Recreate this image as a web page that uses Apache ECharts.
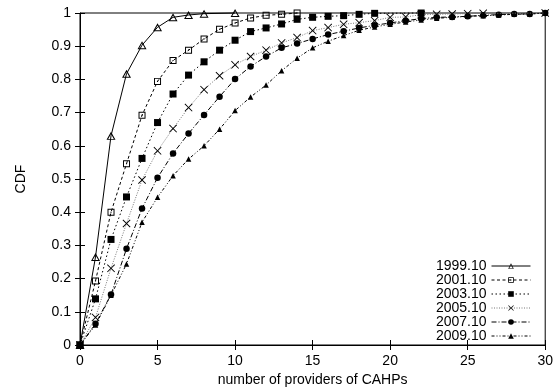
<!DOCTYPE html>
<html>
<head>
<meta charset="utf-8">
<script src="https://cdn.jsdelivr.net/npm/echarts@6/dist/echarts.min.js"></script>
<style>
  html, body { margin: 0; padding: 0; background: #fff; }
  #chart { width: 556px; height: 392px; }
</style>
</head>
<body>
<div id="chart"></div>
<script>
// Number of providers (x) and the CDF of each snapshot; null = no point at that x
const providers = [0,1,2,3,4,5,6,7,8,9,10,11,12,13,14,15,16,17,18,19,20,21,22,23,24,25,26,27,28,29,30];
const seriesNames = ['1999.10', '2001.10', '2003.10', '2005.10', '2007.10', '2009.10'];

const cdf1999 = [0, 0.265, 0.630, 0.817, 0.903, 0.957, 0.987, 0.994, 0.998, null, 1.0];
const cdf2001 = [0, 0.193, 0.400, 0.546, 0.692, 0.794, 0.857, 0.888, 0.922, 0.951, 0.970, 0.985, 0.993, 0.996, 1.0];
const cdf2003 = [0, 0.139, 0.318, 0.446, 0.562, 0.670, 0.756, 0.813, 0.853, 0.888, 0.918, 0.944, 0.955, 0.967, 0.981, 0.987, 0.990, 0.992, 0.996, 0.999, null, null, 1.0];
const cdf2005 = [0, 0.083, 0.231, 0.366, 0.497, 0.585, 0.652, 0.715, 0.769, 0.811, 0.844, 0.869, 0.888, 0.910, 0.926, 0.947, 0.956, 0.966, 0.971, 0.977, 0.987, 0.988, 0.995, 0.996, 0.997, 0.998, 0.999, null, null, null, 1.0];
const cdf2007 = [0, 0.064, 0.152, 0.290, 0.411, 0.504, 0.577, 0.637, 0.693, 0.748, 0.801, 0.839, 0.869, 0.895, 0.908, 0.922, 0.935, 0.945, 0.955, 0.963, 0.970, 0.977, 0.983, 0.987, 0.988, 0.990, 0.993, 0.995, 0.997, 0.997, 1.0];
const cdf2009 = [0, 0.060, 0.150, 0.244, 0.370, 0.445, 0.510, 0.560, 0.600, 0.650, 0.706, 0.747, 0.783, 0.826, 0.864, 0.895, 0.915, 0.932, 0.948, 0.958, 0.966, 0.973, 0.979, 0.984, 0.987, 0.990, 0.992, 0.994, 0.996, 0.997, 1.0];

const xTicks = [0, 5, 10, 15, 20, 25, 30];
const yTicks = [0, 0.1, 0.2, 0.3, 0.4, 0.5, 0.6, 0.7, 0.8, 0.9, 1];

const FONT = '"Liberation Sans", Arial, sans-serif';

// Outline-only marker shapes (outer ring clockwise, inner ring counter-clockwise)
const openTriangle = 'path://M5,0L10,10L0,10Z M5,2.7L1.9,8.8L8.1,8.8Z';
const openSquareDot = 'path://M0,0L10,0L10,10L0,10Z M1.4,1.4L1.4,8.6L8.6,8.6L8.6,1.4Z M4.2,4.2L5.8,4.2L5.8,5.8L4.2,5.8Z';
const thinCross = 'path://M0,0.8L0.8,0L5,4.2L9.2,0L10,0.8L5.8,5L10,9.2L9.2,10L5,5.8L0.8,10L0,9.2L4.2,5Z';

const styles = [
  { symbol: openTriangle, size: [9, 8], dash: 'solid', color: '#000' },
  { symbol: openSquareDot, size: 7, dash: [3, 2.5], color: '#000' },
  { symbol: 'rect', size: 7, dash: [1.5, 2.5], color: '#000' },
  { symbol: thinCross, size: 8, dash: [1, 1.5], color: '#777' },
  { symbol: 'circle', size: 6.5, dash: [5, 2, 1, 2], color: '#000' },
  { symbol: 'triangle', size: 5.5, dash: [3, 2, 1, 2, 1, 2], color: '#000' }
];

const values = [cdf1999, cdf2001, cdf2003, cdf2005, cdf2007, cdf2009];

function pairs(ys) {
  const out = [];
  ys.forEach((y, i) => { if (y !== null) out.push([providers[i], y]); });
  return out;
}

const series = seriesNames.map((name, k) => ({
  name: name,
  type: 'line',
  data: pairs(values[k]),
  symbol: styles[k].symbol,
  symbolSize: styles[k].size,
  showAllSymbol: true,
  clip: false,
  lineStyle: { color: styles[k].color, width: 1, type: styles[k].dash },
  itemStyle: { color: '#000', borderWidth: 0 },
  z: 10 - k
}));

const axisText = { color: '#000', fontFamily: FONT, fontSize: 14 };
const tickStyle = { show: true, inside: true, length: 5, lineStyle: { color: '#000', width: 1 } };

const chart = echarts.init(document.getElementById('chart'), null, { renderer: 'canvas' });
chart.setOption({
  animation: false,
  backgroundColor: '#fff',
  grid: { left: 80, right: 9, top: 13, bottom: 44, show: true, borderColor: '#000', borderWidth: 1, backgroundColor: 'transparent' },
  xAxis: [
    {
      type: 'value', min: xTicks[0], max: xTicks[xTicks.length - 1], interval: xTicks[1] - xTicks[0],
      name: 'number of providers of CAHPs', nameLocation: 'middle', nameGap: 28,
      nameTextStyle: axisText,
      axisLine: { show: true, lineStyle: { color: '#000', width: 1 } },
      axisTick: tickStyle,
      axisLabel: Object.assign({ margin: 9 }, axisText),
      splitLine: { show: false }
    },
    {
      type: 'value', position: 'top', min: xTicks[0], max: xTicks[xTicks.length - 1], interval: xTicks[1] - xTicks[0],
      axisLine: { show: false }, axisTick: tickStyle, axisLabel: { show: false }, splitLine: { show: false }
    }
  ],
  yAxis: [
    {
      type: 'value', min: yTicks[0], max: yTicks[yTicks.length - 1], interval: 0.1,
      name: 'CDF', nameLocation: 'middle', nameGap: 52, nameRotate: 90,
      nameTextStyle: axisText,
      axisLine: { show: true, lineStyle: { color: '#000', width: 1 } },
      axisTick: tickStyle,
      axisLabel: Object.assign({ margin: 9, formatter: v => String(+v.toFixed(1)) }, axisText),
      splitLine: { show: false }
    },
    {
      type: 'value', position: 'right', min: yTicks[0], max: yTicks[yTicks.length - 1], interval: 0.1,
      axisLine: { show: false }, axisTick: tickStyle, axisLabel: { show: false }, splitLine: { show: false }
    }
  ],
  legend: {
    orient: 'vertical',
    right: 25,
    top: 259,
    align: 'right',
    itemWidth: 39,
    itemHeight: 7,
    itemGap: 0,
    padding: 0,
    lineStyle: { width: 1 },
    textStyle: { color: '#000', fontFamily: FONT, fontSize: 14, padding: [0, 0, 0, 0] },
    data: seriesNames
  },
  series: series
});
</script>
</body>
</html>
